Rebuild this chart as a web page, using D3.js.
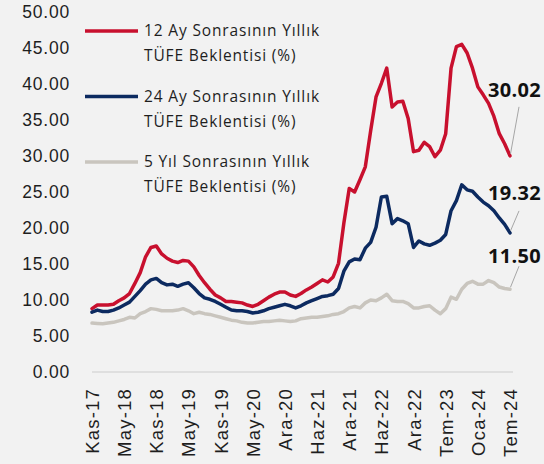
<!DOCTYPE html>
<html>
<head>
<meta charset="utf-8">
<script src="https://cdn.jsdelivr.net/npm/d3@7"></script>
<style>
  html, body { margin: 0; padding: 0; background: #f2f2f2; }
  svg { display: block; font-family: "Open Sans", sans-serif; }
</style>
</head>
<body>
<svg id="chart"></svg>
<script>
// Categories (monthly survey rounds, two months have no survey)
const months = [
  "Kas-17", "Ara-17",
  "Oca-18", "Şub-18", "Mar-18", "Nis-18", "May-18", "Haz-18", "Tem-18", "Ağu-18", "Eyl-18", "Eki-18", "Kas-18", "Ara-18",
  "Oca-19", "Şub-19", "Mar-19", "Nis-19", "May-19", "Haz-19", "Tem-19", "Ağu-19", "Eyl-19", "Eki-19", "Kas-19", "Ara-19",
  "Oca-20", "Şub-20", "Mar-20", "Nis-20", "May-20", "Haz-20", "Tem-20", "Eyl-20", "Eki-20", "Kas-20", "Ara-20",
  "Oca-21", "Şub-21", "Mar-21", "Nis-21", "May-21", "Haz-21", "Tem-21", "Ağu-21", "Eyl-21", "Eki-21", "Kas-21", "Ara-21",
  "Oca-22", "Şub-22", "Mar-22", "Nis-22", "May-22", "Haz-22", "Tem-22", "Ağu-22", "Eyl-22", "Eki-22", "Kas-22", "Ara-22",
  "Oca-23", "Şub-23", "Mar-23", "Nis-23", "May-23", "Tem-23", "Ağu-23", "Eyl-23", "Eki-23", "Kas-23", "Ara-23",
  "Oca-24", "Şub-24", "Mar-24", "Nis-24", "May-24", "Haz-24", "Tem-24"
];

// 12 months ahead annual CPI expectation (%)
const exp12m = [
  8.8, 9.3, 9.3, 9.3, 9.4, 9.9, 10.3, 10.9, 12.3, 13.8,
  16.0, 17.3, 17.5, 16.4, 15.8, 15.4, 15.2, 15.5, 15.4, 14.6,
  13.4, 12.4, 11.5, 10.7, 10.3, 9.8, 9.8, 9.7, 9.6, 9.3,
  9.1, 9.4, 9.9, 10.4, 10.8, 11.1, 11.1, 10.7, 10.5, 10.9,
  11.4, 11.8, 12.3, 12.8, 12.5, 13.2, 15.1, 20.7, 25.5, 25.0,
  26.7, 28.5, 33.5, 38.2, 40.1, 42.2, 36.8, 37.5, 37.6, 35.2,
  30.6, 30.8, 31.9, 31.3, 29.9, 30.8, 33.1, 42.2, 45.2, 45.5,
  44.3, 42.2, 39.6, 38.5, 37.3, 35.5, 33.1, 31.7, 30.02
];

// 24 months ahead annual CPI expectation (%)
const exp24m = [
  8.3, 8.6, 8.4, 8.4, 8.6, 8.9, 9.3, 9.7, 10.5, 11.3,
  12.2, 12.8, 13.0, 12.4, 12.1, 12.2, 11.9, 12.2, 12.4, 11.7,
  10.9, 10.3, 10.1, 9.8, 9.4, 9.0, 8.6, 8.5, 8.5, 8.4,
  8.2, 8.3, 8.5, 8.8, 9.0, 9.2, 9.4, 9.2, 8.9, 9.2,
  9.6, 9.9, 10.2, 10.5, 10.6, 10.8, 11.6, 14.0, 15.3, 15.7,
  15.6, 17.2, 18.0, 20.1, 24.3, 24.4, 20.6, 21.3, 21.0, 20.6,
  17.3, 18.2, 17.8, 17.6, 17.9, 18.3, 19.1, 22.4, 23.8, 26.0,
  25.3, 25.1, 24.3, 23.6, 23.1, 22.4, 21.4, 20.5, 19.32
];

// 5 years ahead annual CPI expectation (%)
const exp5y = [
  6.8, 6.75, 6.7, 6.8, 6.9, 7.1, 7.3, 7.6, 7.5, 8.1,
  8.4, 8.8, 8.7, 8.5, 8.5, 8.5, 8.6, 8.8, 8.5, 8.1,
  8.3, 8.1, 8.0, 7.8, 7.6, 7.4, 7.2, 7.1, 6.9, 6.8,
  6.8, 6.9, 7.0, 7.0, 7.1, 7.2, 7.1, 7.0, 7.1, 7.4,
  7.5, 7.6, 7.6, 7.7, 7.8, 8.0, 8.1, 8.4, 8.9, 9.1,
  8.9, 9.6, 10.0, 9.9, 10.3, 10.8, 9.9, 9.8, 9.8, 9.5,
  8.9, 8.9, 9.1, 9.2, 8.6, 8.1, 8.8, 10.4, 10.1, 11.5,
  12.3, 12.6, 12.2, 12.2, 12.7, 12.4, 11.8, 11.6, 11.50
];

const seriesNames = [
  ["12 Ay Sonrasının Yıllık", "TÜFE Beklentisi (%)"],
  ["24 Ay Sonrasının Yıllık", "TÜFE Beklentisi (%)"],
  ["5 Yıl Sonrasının Yıllık", "TÜFE Beklentisi (%)"]
];

const yTicks = [0, 5, 10, 15, 20, 25, 30, 35, 40, 45, 50];

const width = 544;
const height = 464;

const svg = d3.select("#chart")
  .attr("width", width)
  .attr("height", height);

svg.append("rect")
  .attr("width", width)
  .attr("height", height)
  .attr("fill", "#f2f2f2");

const x = d3.scalePoint()
  .domain(months)
  .range([92, 510]);

const y = d3.scaleLinear()
  .domain([0, 50])
  .range([372, 12]);

// series styles: label offsets are where the value labels were dragged to
const series = [
  { values: exp12m, color: "#c8102e", labelDy: -66, leaderDy: -49 },
  { values: exp24m, color: "#0c2a60", labelDy: -40, leaderDy: -22 },
  { values: exp5y, color: "#c9c5be", labelDy: -33, leaderDy: -23 }
];

// Y axis (labels only)
const yAxis = svg.append("g")
  .attr("transform", "translate(72,0)")
  .call(d3.axisLeft(y).tickValues(yTicks).tickFormat(d3.format(".2f")).tickSize(0).tickPadding(2));
yAxis.select(".domain").remove();
yAxis.selectAll("text")
  .attr("fill", "#1e1e1e")
  .style("font-size", "17.5px")
  .style("letter-spacing", "0.8px");

// X axis (every 6th category)
const xAxis = svg.append("g")
  .attr("transform", `translate(0,${y(0)})`)
  .call(d3.axisBottom(x).tickValues(months.filter((d, i) => i % 6 === 0)).tickSize(0));
xAxis.select(".domain").remove();
xAxis.selectAll("text")
  .attr("transform", "rotate(-90)")
  .attr("x", -16)
  .attr("y", 0)
  .attr("dy", "0.35em")
  .attr("fill", "#1e1e1e")
  .style("text-anchor", "end")
  .style("font-size", "18.5px")
  .style("letter-spacing", "1.2px");

// baseline
svg.append("line")
  .attr("x1", x(months[0]))
  .attr("x2", x(months[months.length - 1]) + 3)
  .attr("y1", y(0))
  .attr("y2", y(0))
  .attr("stroke", "#d9d9d9")
  .attr("stroke-width", 1.5);

// Lines
const line = d3.line()
  .x((d, i) => x(months[i]))
  .y(d => y(d));

series.forEach(s => {
  svg.append("path")
    .datum(s.values)
    .attr("fill", "none")
    .attr("stroke", s.color)
    .attr("stroke-width", 3.5)
    .attr("stroke-linejoin", "round")
    .attr("stroke-linecap", "round")
    .attr("d", line);
});

// Last value labels with leader lines
series.forEach(s => {
  const last = s.values.length - 1;
  const lx = x(months[last]);
  const ly = y(s.values[last]);
  svg.append("line")
    .attr("x1", lx + 0.5)
    .attr("y1", ly - 2)
    .attr("x2", lx + 9)
    .attr("y2", ly + s.leaderDy)
    .attr("stroke", "#a6a6a6")
    .attr("stroke-width", 1);
  svg.append("text")
    .attr("x", 541)
    .attr("y", ly + s.labelDy)
    .attr("dy", "0.35em")
    .attr("text-anchor", "end")
    .attr("fill", "#111")
    .style("font-size", "20px")
    .style("font-weight", "bold")
    .style("letter-spacing", "0.3px")
    .text(d3.format(".2f")(s.values[last]));
});

// Legend
const legendRows = [31, 96.5, 162];
series.forEach((s, k) => {
  const g = svg.append("g").attr("transform", `translate(0,${legendRows[k]})`);
  g.append("line")
    .attr("x1", 85)
    .attr("x2", 138)
    .attr("stroke", s.color)
    .attr("stroke-width", 3.5);
  seriesNames[k].forEach((t, j) => {
    g.append("text")
      .attr("x", 144)
      .attr("y", j * 25)
      .attr("dy", "0.35em")
      .attr("fill", "#1e1e1e")
      .style("font-size", "15.5px")
      .style("letter-spacing", "0.85px")
      .text(t);
  });
});
</script>
</body>
</html>
